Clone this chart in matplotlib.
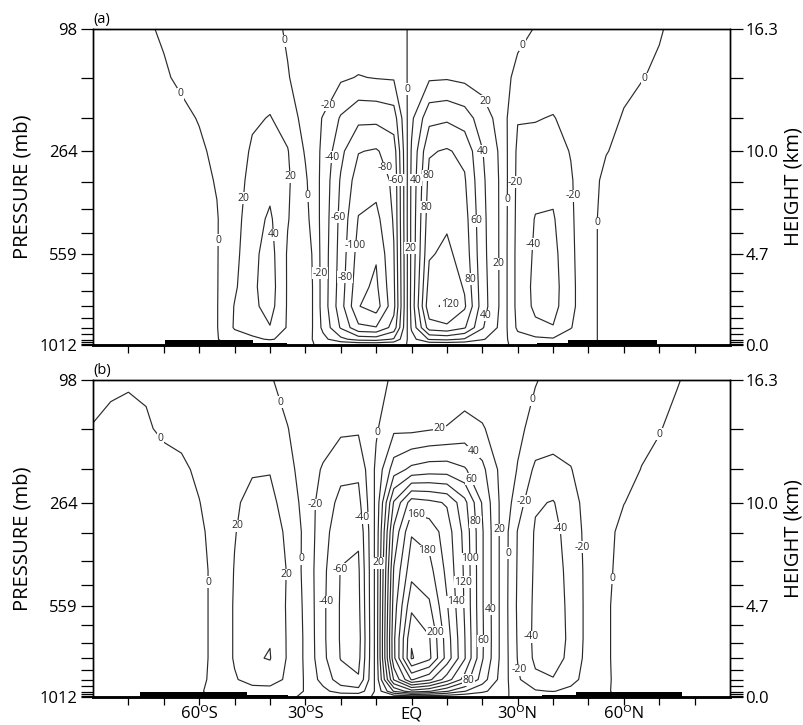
import numpy as np
import matplotlib.pyplot as plt

plt.rcParams['font.family'] = ['Open Sans', 'DejaVu Sans']

# grid the streamfunction was read on
lat = list(range(-90, 95, 5))
hgt = [0, 0.3, 0.9, 2.0, 3.0, 4.7, 6.5, 8.5, 10.0, 11.7, 13.8, 16.3]

# panel (a): one column per latitude (-90 .. 90), values bottom -> top
psi_a = [
    [-0.5, -1, -2, -2, -2, -2, -2, -2, -2, -2, -1, -1],
    [-0.5, -1, -2, -2, -2, -2, -2, -2, -2, -2, -2, -1],
    [-0.5, -1, -2, -3, -3, -3, -3, -3, -3, -3, -2, -2],
    [-0.5, -1, -2, -3, -3, -3, -3, -3, -3, -3, -2, -2],
    [-0.5, -1, -3, -4, -4, -4, -4, -4, -4, -3, -2, 2],
    [-0.5, -1, -3, -4, -4, -4, -4, -4, -4, -4, 3, 4],
    [-0.5, -1, -3, -4, -4, -4, -4, -4, -3, 1, 5, 5],
    [-0.5, -1, -1, -1, -1, -1, -1, 1, 4, 6, 6, 5],
    [0.5, 10, 22, 21, 17, 14, 12, 10, 8, 6, 5, 5],
    [0.5, 16, 30, 35, 36, 35, 32, 27, 23, 17, 8, 4],
    [0.5, 22, 39, 48, 50, 48, 43, 34, 28, 21, 10, 5],
    [0.5, 14, 18, 18, 18, 18, 21, 23, 21, 12, 1, -2],
    [0.5, 9, 17, 19, 19, 16, 7, 3, -2, -8, -8, -4],
    [-0.5, -14, -25, -28, -28, -28, -27, -26, -24, -21, -8, -2],
    [-0.5, -35, -62, -72, -70, -68, -66, -62, -55, -42, -17, -3],
    [-0.5, -48, -96, -119, -114, -108, -101, -90, -79, -55, -21, -4],
    [-0.5, -50, -99, -130, -124, -118, -106, -92, -82, -55, -19, -4],
    [-0.5, -38, -72, -86, -84, -81, -78, -76, -70, -50, -18, -3],
    [0.2, 12, 23, 27, 26, 25, 25, 24, 22, 16, 6, 1],
    [0.5, 42, 90, 115, 108, 98, 92, 86, 78, 54, 17, 4],
    [0.5, 45, 95, 124, 114, 104, 97, 90, 82, 57, 18, 5],
    [0.5, 38, 82, 103, 98, 92, 88, 82, 75, 50, 15, 4],
    [0.5, 22, 42, 50, 49, 47, 46, 44, 41, 30, 12, 3],
    [0.5, 9, 16, 18, 18, 18, 18, 18, 17, 13, 5, 3],
    [-0.5, -12, -24, -27, -27, -27, -26, -25, -24, -19, -3, 3],
    [-0.5, -16, -36, -44, -45, -43, -41, -33, -27, -19, -8, -0.5],
    [-0.5, -18, -39, -47, -48, -46, -42, -34, -28, -21, -10, -3],
    [-0.5, -10, -21, -25, -25, -24, -23, -22, -19, -14, -6, -3],
    [-0.5, -3, -5, -6, -6, -6, -6, -5, -5, -5, -4, -3],
    [0.5, 3, 5, 6, 6, 6, 6, 3, -0.5, -4, -3, -3],
    [0.5, 3, 6, 7, 7, 7, 7, 6, 3, 1, -3, -2],
    [0.5, 3, 5, 6, 6, 6, 6, 6, 5, 4, -0.5, -2],
    [0.5, 2, 4, 5, 5, 5, 5, 5, 5, 4, 2, -1],
    [0.5, 2, 4, 4, 4, 4, 4, 4, 4, 4, 3, 3],
    [0.5, 2, 3, 3, 3, 3, 3, 3, 3, 3, 3, 3],
    [0.5, 1, 2, 2, 2, 2, 2, 2, 2, 2, 2, 2],
    [0.5, 1, 2, 2, 2, 2, 2, 2, 2, 2, 2, 2],
]

# panel (b)
psi_b = [
    [-0.5, -1, -2, -2, -2, -2, -2, -2, -2, -1.5, -0.5, 3.7],
    [-0.5, -1, -2, -2, -3, -3, -3, -3, -3, -3, -2, 1.6],
    [-0.5, -1, -2, -3, -3, -3, -3, -3, -3, -3, -3, 1],
    [-0.5, -1, -2, -3, -3, -3, -3, -3, -3, -3, -1, 1.2],
    [-0.5, -1, -2, -3, -3, -3, -3, -3, -3, -3, 1.5, 2],
    [-0.5, -1, -3, -3, -3, -3, -3, -3, -3, -2, 3, 3],
    [-0.5, -1, -3, -3, -3, -3, -3, -2, -0.3, 2, 4, 3],
    [0.5, 3, 4, 3, 3, 3, 3, 4, 5, 5, 4, 3],
    [0.5, 8, 18, 22, 22, 22, 21, 19, 17, 12, 6, 3],
    [0.5, 12, 28, 38, 37, 35, 32, 29, 26, 18, 8, 4],
    [0.5, 12, 30, 41, 39, 34, 31, 28, 25, 19, 8, 1],
    [0.5, 8, 16, 18, 18, 18, 19, 17, 12, 6, 0.3, -4],
    [-0.5, -1, -2, -3, -3, -4, -6, -5, -7, -9, -6, -4],
    [-0.5, -14, -28, -35, -36, -36, -35, -33, -30, -22, -10, -3],
    [-0.5, -30, -50, -61, -62, -62, -61, -52, -45, -35, -16, -3],
    [-0.5, -32, -58, -66, -68, -65, -63, -57, -46, -36, -17, -3],
    [0.2, 3.5, 6.4, 7.3, 7.5, 7.2, 7, 6.3, 5, 4, -2.2, -3],
    [0.5, 62, 122, 155, 156, 150, 142, 125, 102, 50, 16, 1.4],
    [1, 92, 182, 242, 238, 215, 193, 178, 150, 65, 15, 4],
    [1, 82, 165, 225, 222, 203, 187, 172, 145, 70, 18, 5],
    [1, 62, 130, 172, 170, 162, 155, 150, 138, 70, 21, 6],
    [1, 41, 92, 122, 121, 118, 117, 114, 106, 62, 28, 6],
    [0.5, 25, 50, 62, 63, 62, 62, 62, 58, 45, 22, 5],
    [0.5, 8, 15, 18, 18, 18, 18, 18, 18, 16, 10, 4],
    [-0.5, -8, -17, -21, -22, -23, -22, -21, -10, -1, 4, 4],
    [-0.5, -18, -36, -44, -45, -44, -43, -42, -38, -24, -6, 1],
    [-0.5, -21, -39, -48, -50, -48, -47, -45, -41, -26, -10, -5],
    [-0.5, -14, -28, -35, -36, -36, -35, -33, -30, -21, -9, -5],
    [-0.5, -5, -10, -12, -13, -13, -13, -12, -10, -7, -5, -4],
    [-0.5, -1, -2, -2, -2, -2, -3, -4, -5, -5, -4, -4],
    [0.5, 3, 5, 6, 6, 6, 5, 4, -0.3, -4, -4, -4],
    [0.5, 3, 5, 6, 6, 6, 6, 6, 4, 0.3, -3, -3],
    [0.5, 2, 4, 5, 5, 5, 5, 5, 5, 4, -0.8, -2],
    [0.5, 2, 4, 4, 4, 4, 4, 4, 4, 4, 4, -1],
    [0.5, 2, 3, 3, 3, 3, 3, 3, 3, 3, 4, 4],
    [0.5, 1, 2, 2, 2, 2, 2, 2, 2, 2, 3, 3],
    [0.5, 1, 2, 2, 2, 2, 2, 2, 2, 2, 2, 2],
]

levels = list(range(-140, 261, 20))

# model levels (km) and their tick labels
level_km = [0, 0.05, 0.15, 0.28, 0.55, 0.9, 1.39, 2.03, 2.8, 3.71, 4.7,
            5.78, 7.02, 8.41, 10.0, 11.71, 13.77, 16.3]
pres_labels = ['1012', '', '', '', '', '', '', '', '', '', '559',
               '', '', '', '264', '', '', '98']
km_labels = ['0.0', '', '', '', '', '', '', '', '', '', '4.7',
             '', '', '', '10.0', '', '', '16.3']

xticks_major = [-60, -30, 0, 30, 60]
xtick_labels = ['60\u1d3cS', '30\u1d3cS', 'EQ', '30\u1d3cN', '60\u1d3cN']
xticks_minor = [-80, -70, -50, -40, -20, -10, 10, 20, 40, 50, 70, 80]

# black strips along the surface (lat ranges)
thick_a = [(-69.6, -44.7), (44.2, 69.4)]
thin_a = [(-44.7, -35.2), (35.5, 44.2)]
thick_b = [(-76.7, -46.5), (46.5, 76.4)]
thin_b = [(-46.5, -35.0), (37.0, 46.5)]

# where the contour labels sit (lat, km)
labels_a = [(-64.9, 13.0), (-55, 5.4), (-49.4, 7.6), (-33, 8.7), (-37.2, 5.7),
            (-35.5, 15.7), (-29.2, 7.7), (-25, 12.5), (-23, 9.7), (-20.7, 6.6),
            (-26.4, 3.7), (-18.3, 3.5), (-15.1, 5.1), (-8.3, 9.1), (-4.1, 8.5),
            (1, 8.5), (-1.3, 13.2), (-0.7, 5.0), (4.4, 7.1), (7.8, 8.7),
            (22.2, 12.7), (20.8, 10.0), (18.8, 6.4), (16.5, 3.4), (12.3, 2.2),
            (21.6, 1.5), (24.2, 4.2), (32.1, 15.4), (30.4, 8.4), (27.3, 7.5),
            (34.9, 5.2), (45.6, 7.7), (52.4, 6.3), (65.4, 13.8)]
labels_b = [(-70.2, 13.4), (-57.8, 5.9), (-49.3, 8.8), (-36.3, 6.3), (-36.3, 15.2),
            (-31.5, 7.1), (-27, 9.9), (-15.1, 9.2), (-20.8, 6.6), (-25.3, 4.9),
            (-9.5, 13.6), (-9.7, 6.9), (8, 13.7), (17.9, 12.7), (17.9, 11.3),
            (17.1, 9.0), (16.5, 7.1), (15.1, 5.9), (11.7, 4.9), (1, 9.2),
            (4.7, 7.6), (6.1, 3.3), (25, 8.6), (23.6, 4.5), (20.8, 2.9),
            (16, 0.9), (33.5, 15.3), (31.2, 10.1), (27.3, 7.4), (42.5, 8.7),
            (49, 7.7), (56.1, 6.1), (32.9, 3.1), (30.6, 1.4), (70.2, 13.5)]


def panel(ax, psi, labpos, thick, thin, letter, show_x):
    z = np.array(psi).T
    cs = ax.contour(lat, hgt, z, levels=levels, colors='#2a2a2a', linewidths=0.85,
                    negative_linestyles='solid')
    texts = ax.clabel(cs, manual=labpos, inline=False, fmt='%d', fontsize=7.5)
    for t in texts:
        t.set_rotation(0)
        t.set_color('#2a2a2a')
        t.set_bbox(dict(facecolor='white', edgecolor='none', pad=0.3))
    for x0, x1 in thick:
        ax.fill_between([x0, x1], 0, 0.27, color='k', lw=0, zorder=3)
    for x0, x1 in thin:
        ax.fill_between([x0, x1], 0, 0.09, color='k', lw=0, zorder=3)
    ax.set_xlim(-90, 90)
    ax.set_ylim(0, 16.3)
    ax.set_xticks(xticks_major)
    ax.set_xticks(xticks_minor, minor=True)
    if show_x:
        ax.set_xticklabels(xtick_labels)
    else:
        ax.set_xticklabels([])
    ax.tick_params(axis='x', which='both', direction='out', length=6, width=0.9,
                   labelsize=12, pad=0.5)
    ax.set_yticks(level_km)
    ax.set_yticklabels(pres_labels)
    ax.tick_params(axis='y', direction='out', length=9, width=0.9, labelsize=12, pad=2)
    ax.set_ylabel('PRESSURE (mb)', fontsize=14.5, labelpad=5)
    for s in ax.spines.values():
        s.set_linewidth(1.0)
    ax.spines['bottom'].set_linewidth(1.8)

    ax2 = ax.twinx()
    ax2.set_ylim(0, 16.3)
    ax2.set_yticks(level_km)
    ax2.set_yticklabels(km_labels)
    ax2.tick_params(axis='y', direction='out', length=9, width=0.9, labelsize=12, pad=2)
    ax2.set_ylabel('HEIGHT (km)', fontsize=14.5, labelpad=4)
    for s in ax2.spines.values():
        s.set_linewidth(1.0)
    ax2.spines['bottom'].set_linewidth(1.8)

    ax.text(0.0, 1.006, letter, transform=ax.transAxes, fontsize=10.5,
            ha='left', va='bottom')


fig = plt.figure(figsize=(8.04, 7.25), dpi=100)
ax_a = fig.add_axes([0.1157, 0.5241, 0.7923, 0.4359])
ax_b = fig.add_axes([0.1157, 0.0386, 0.7923, 0.4372])

panel(ax_a, psi_a, labels_a, thick_a, thin_a, '(a)', False)
panel(ax_b, psi_b, labels_b, thick_b, thin_b, '(b)', True)

fig.savefig('out.png', dpi=100)
